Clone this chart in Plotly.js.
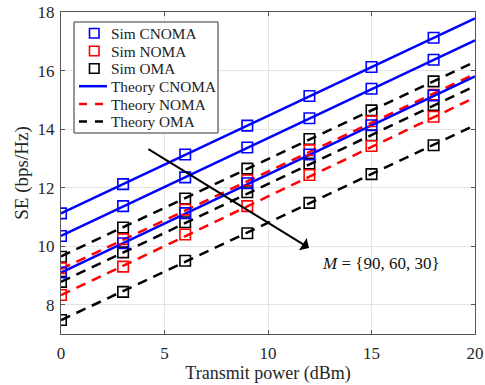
<!DOCTYPE html>
<html>
<head>
<meta charset="utf-8">
<script src="https://cdn.plot.ly/plotly-3.0.1.min.js"></script>
<style>html,body{margin:0;padding:0;background:#fff}#chart{width:485px;height:385px}</style>
</head>
<body>
<div id="chart"></div>
<script>
// Simulation points
const simX = [0, 3, 6, 9, 12, 15, 18];
const simCNOMA90 = [11.12, 12.12, 13.13, 14.12, 15.13, 16.12, 17.12];
const simCNOMA60 = [10.35, 11.37, 12.35, 13.37, 14.37, 15.38, 16.37];
const simCNOMA30 = [9.10, 10.10, 11.13, 12.15, 13.13, 14.13, 15.15];
const simNOMA90 = [9.25, 10.24, 11.25, 12.25, 13.28, 14.27, 15.17];
const simNOMA60 = [8.33, 9.30, 10.40, 11.37, 12.43, 13.42, 14.42];
const simOMA90 = [9.64, 10.64, 11.63, 12.65, 13.66, 14.64, 15.63];
const simOMA60 = [8.78, 9.79, 10.82, 11.84, 12.82, 13.79, 14.82];
const simOMA30 = [7.48, 8.44, 9.50, 10.44, 11.48, 12.46, 13.45];

// Theory curves
const thX = [0, 5, 10, 15, 20];
const thCNOMA90 = [11.12, 12.78, 14.45, 16.12, 17.78];
const thCNOMA60 = [10.35, 12.02, 13.69, 15.36, 17.03];
const thCNOMA30 = [9.10, 10.77, 12.44, 14.11, 15.80];
const thNOMA90 = [9.22, 10.88, 12.55, 14.22, 15.88];
const thNOMA60 = [8.33, 10.00, 11.70, 13.38, 15.08];
const thOMA90 = [9.65, 11.31, 12.97, 14.63, 16.30];
const thOMA60 = [8.78, 10.45, 12.12, 13.80, 15.47];
const thOMA30 = [7.47, 9.13, 10.80, 12.47, 14.13];

const xTicks = [0, 5, 10, 15, 20];
const yTicks = [8, 10, 12, 14, 16, 18];
const legendNames = ["Sim CNOMA", "Sim NOMA", "Sim OMA", "Theory CNOMA", "Theory NOMA", "Theory OMA"];
const annText = "<i>M</i> = {90, 60, 30}";

const BLUE = "#0000FF", RED = "#FF0000", BLACK = "#000000";
const D = "10px,7px";
const traces = [];
function theory(y, color, dash, name) {
  traces.push({x: thX, y: y, type: "scatter", mode: "lines", name: name, showlegend: false,
    line: {color: color, width: 2.5, dash: dash}});
}
function sim(y, color, name) {
  traces.push({x: simX, y: y, type: "scatter", mode: "markers", name: name, showlegend: false,
    marker: {symbol: "square-open", size: 10.5, color: color, line: {width: 1.6, color: color}}});
}
theory(thOMA90, BLACK, D, "Theory OMA");
theory(thOMA60, BLACK, D, "Theory OMA");
theory(thOMA30, BLACK, D, "Theory OMA");
theory(thNOMA90, RED, D, "Theory NOMA");
theory(thNOMA60, RED, D, "Theory NOMA");
theory(thCNOMA90, BLUE, "solid", "Theory CNOMA");
theory(thCNOMA60, BLUE, "solid", "Theory CNOMA");
theory(thCNOMA30, BLUE, "solid", "Theory CNOMA");
sim(simOMA90, BLACK, "Sim OMA");
sim(simOMA60, BLACK, "Sim OMA");
sim(simOMA30, BLACK, "Sim OMA");
sim(simNOMA90, RED, "Sim NOMA");
sim(simNOMA60, RED, "Sim NOMA");
sim(simCNOMA90, BLUE, "Sim CNOMA");
sim(simCNOMA60, BLUE, "Sim CNOMA");
sim(simCNOMA30, BLUE, "Sim CNOMA");

// custom legend (paper coordinates derived from pixel layout of the plot area)
const M = {l: 61, r: 10, t: 12, b: 51}, W = 485, H = 385;
const PW = W - M.l - M.r, PH = H - M.t - M.b;
const px = v => (v - M.l) / PW;
const py = v => 1 - (v - M.t) / PH;
const FONT = "Liberation Serif, Times New Roman, serif";
const shapes = [{type: "rect", xref: "paper", yref: "paper", x0: px(74), x1: px(218), y0: py(22), y1: py(133),
  line: {color: "#333", width: 1}, fillcolor: "#fff", layer: "above"}];
const annotations = [];
const legColors = [BLUE, RED, BLACK, BLUE, RED, BLACK];
const rowY = [33.3, 51, 68.5, 86.2, 104, 121.5];
legendNames.forEach((name, i) => {
  const yc = rowY[i];
  if (i < 3) {
    shapes.push({type: "rect", xref: "paper", yref: "paper", x0: px(89.5), x1: px(99), y0: py(yc - 4.75), y1: py(yc + 4.75),
      line: {color: legColors[i], width: 1.6}, layer: "above"});
  } else {
    shapes.push({type: "line", xref: "paper", yref: "paper", x0: px(79), x1: px(107), y0: py(yc), y1: py(yc),
      line: {color: legColors[i], width: 2.5, dash: i === 3 ? "solid" : "8px,8px"}, layer: "above"});
  }
  annotations.push({xref: "paper", yref: "paper", x: px(108.5), y: py(yc), xanchor: "left", yanchor: "middle",
    text: name, showarrow: false, font: {family: FONT, size: 15.3, color: "#222"}});
});
annotations.push({x: 11.98, y: 9.94, ax: 4.15, ay: 13.35, axref: "x", ayref: "y", xref: "x", yref: "y",
  showarrow: true, arrowhead: 1, arrowsize: 1.2, arrowwidth: 2, arrowcolor: "#000", text: ""});
annotations.push({x: 15.46, y: 9.42, xref: "x", yref: "y", text: annText, showarrow: false,
  font: {family: FONT, size: 17, color: "#111"}});

const axisCommon = {
  showline: true, linecolor: "#555", linewidth: 1, mirror: "ticks",
  ticks: "inside", ticklen: 4, tickcolor: "#555",
  showgrid: true, gridcolor: "#e3e3e3", gridwidth: 1, zeroline: false,
  tickfont: {family: FONT, size: 17, color: "#262626"}
};
const layout = {
  width: W, height: H,
  margin: M,
  paper_bgcolor: "#fff", plot_bgcolor: "#fff",
  font: {family: FONT, color: "#262626"},
  xaxis: Object.assign({}, axisCommon, {range: [0, 20], tickvals: xTicks, ticklabelstandoff: 4,
    title: {text: "Transmit power (dBm)", font: {family: FONT, size: 18, color: "#262626"}, standoff: 1}}),
  yaxis: Object.assign({}, axisCommon, {range: [7, 18], tickvals: yTicks, ticklabelstandoff: 2,
    title: {text: "SE (bps/Hz)", font: {family: FONT, size: 19, color: "#262626"}, standoff: 3}}),
  shapes: shapes,
  annotations: annotations,
  showlegend: false
};
Plotly.newPlot("chart", traces, layout, {displayModeBar: false, staticPlot: true});
</script>
</body>
</html>
